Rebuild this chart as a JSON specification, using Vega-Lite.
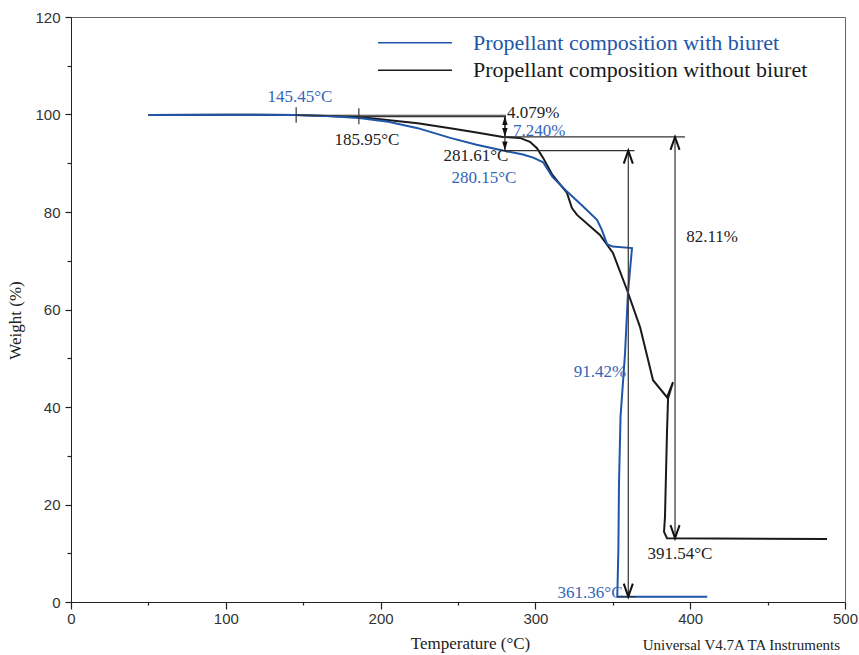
{
  "$schema": "https://vega.github.io/schema/vega-lite/v6.json",
  "autosize": "none",
  "padding": {"left": 71, "top": 17, "right": 14, "bottom": 53},
  "width": 774,
  "height": 585,
  "background": "white",
  "config": {
    "view": {"stroke": "#666", "strokeWidth": 1},
    "axis": {"grid": false, "labelFlush": false, "domainColor": "#222", "tickColor": "#222", "tickWidth": 1.2, "labelFont": "Liberation Sans", "labelFontSize": 15, "labelColor": "#333", "titleFont": "Liberation Serif", "titleFontWeight": "normal", "titleFontSize": 17, "titleColor": "#222"}
  },
  "datasets": {
    "withBiuret": [
      {"i": 1, "t": 50, "w": 99.9},
      {"i": 2, "t": 100, "w": 99.95},
      {"i": 3, "t": 145, "w": 99.9},
      {"i": 4, "t": 165, "w": 99.7},
      {"i": 5, "t": 186, "w": 99.3},
      {"i": 6, "t": 205, "w": 98.5},
      {"i": 7, "t": 224, "w": 97.2},
      {"i": 8, "t": 245, "w": 95.2},
      {"i": 9, "t": 262, "w": 93.8},
      {"i": 10, "t": 279, "w": 92.6},
      {"i": 11, "t": 292, "w": 91.8},
      {"i": 12, "t": 299, "w": 91.1},
      {"i": 13, "t": 305, "w": 90.2},
      {"i": 14, "t": 311, "w": 87.2},
      {"i": 15, "t": 320.4, "w": 84.2},
      {"i": 16, "t": 330, "w": 81.4},
      {"i": 17, "t": 339.8, "w": 78.4},
      {"i": 18, "t": 343, "w": 76.3},
      {"i": 19, "t": 346.3, "w": 73.4},
      {"i": 20, "t": 350, "w": 72.9},
      {"i": 21, "t": 362.4, "w": 72.6},
      {"i": 22, "t": 359.8, "w": 63.4},
      {"i": 23, "t": 357.9, "w": 51},
      {"i": 24, "t": 355, "w": 38},
      {"i": 25, "t": 354, "w": 24.4},
      {"i": 26, "t": 353.6, "w": 10.7},
      {"i": 27, "t": 352.9, "w": 1.1},
      {"i": 28, "t": 380, "w": 1.1},
      {"i": 29, "t": 411, "w": 1.1}
    ],
    "withoutBiuret": [
      {"i": 1, "t": 50, "w": 99.9},
      {"i": 2, "t": 100, "w": 99.95},
      {"i": 3, "t": 145, "w": 99.9},
      {"i": 4, "t": 186, "w": 99.5},
      {"i": 5, "t": 224, "w": 98.2},
      {"i": 6, "t": 245, "w": 97.2},
      {"i": 7, "t": 262, "w": 96.3},
      {"i": 8, "t": 279, "w": 95.4},
      {"i": 9, "t": 290, "w": 95.2},
      {"i": 10, "t": 296.5, "w": 94.4},
      {"i": 11, "t": 301, "w": 93.1},
      {"i": 12, "t": 305, "w": 91.1},
      {"i": 13, "t": 311, "w": 87.6},
      {"i": 14, "t": 320.4, "w": 83.9},
      {"i": 15, "t": 323.6, "w": 80.8},
      {"i": 16, "t": 326.9, "w": 79.4},
      {"i": 17, "t": 341.7, "w": 75.3},
      {"i": 18, "t": 350.1, "w": 71.6},
      {"i": 19, "t": 359.2, "w": 64},
      {"i": 20, "t": 367.6, "w": 56.4},
      {"i": 21, "t": 376, "w": 45.5},
      {"i": 22, "t": 385, "w": 42},
      {"i": 23, "t": 388.9, "w": 45.1},
      {"i": 24, "t": 385.7, "w": 41.8},
      {"i": 25, "t": 385, "w": 34.7},
      {"i": 26, "t": 383.7, "w": 17.4},
      {"i": 27, "t": 383.1, "w": 14.4},
      {"i": 28, "t": 385, "w": 13.1},
      {"i": 29, "t": 488.4, "w": 12.9}
    ],
    "rules": [
      {"t": 145.45, "t2": 281, "w": 99.85, "w2": 99.85},
      {"t": 185.95, "t2": 281, "w": 99.55, "w2": 99.55},
      {"t": 279.5, "t2": 396.6, "w": 95.4, "w2": 95.4},
      {"t": 279.5, "t2": 364, "w": 92.6, "w2": 92.6},
      {"t": 280.3, "t2": 280.3, "w": 99.7, "w2": 95.4},
      {"t": 280.3, "t2": 280.3, "w": 99.7, "w2": 92.6},
      {"t": 360, "t2": 360, "w": 92.6, "w2": 1.1},
      {"t": 390.2, "t2": 390.2, "w": 95.4, "w2": 13.1},
      {"t": 353, "t2": 365, "w": 1.1, "w2": 1.1},
      {"t": 145.45, "t2": 145.45, "w": 101.5, "w2": 98.3},
      {"t": 185.95, "t2": 185.95, "w": 101.3, "w2": 98.0}
    ],
    "legendLines": [
      {"series": "with", "t": 198.3, "t2": 246.1, "w": 114.7},
      {"series": "without", "t": 198.3, "t2": 246.1, "w": 109.1}
    ],
    "headsUp": [{"t": 360, "w": 92.6}, {"t": 390.2, "w": 95.4}],
    "headsDown": [{"t": 360, "w": 1.1}, {"t": 390.2, "w": 13.1}],
    "smallUp": [{"t": 280.3, "w": 99.7}],
    "smallDown": [{"t": 280.3, "w": 95.4}, {"t": 280.3, "w": 92.6}],
    "blueCenter": [
      {"t": 147.9, "w": 103.6, "label": "145.45°C"},
      {"t": 266.8, "w": 87.0, "label": "280.15°C"},
      {"t": 335.3, "w": 1.85, "label": "361.36°C"},
      {"t": 341.7, "w": 47.2, "label": "91.42%"}
    ],
    "blackCenter": [
      {"t": 191.2, "w": 94.8, "label": "185.95°C"},
      {"t": 261.6, "w": 91.5, "label": "281.61°C"},
      {"t": 414.1, "w": 74.9, "label": "82.11%"},
      {"t": 393.4, "w": 9.9, "label": "391.54°C"}
    ],
    "blueLeft": [{"t": 285.5, "w": 96.6, "label": "7.240%"}],
    "blackLeft": [{"t": 281.7, "w": 100.3, "label": "4.079%"}],
    "legendText": [
      {"series": "with", "t": 259.7, "w": 114.7, "label": "Propellant composition with biuret"},
      {"series": "without", "t": 259.7, "w": 109.1, "label": "Propellant composition without biuret"}
    ],
    "footer": [{"t": 496.8, "w": -8.8, "label": "Universal V4.7A TA Instruments"}]
  },
  "layer": [
    {
      "data": {"name": "withoutBiuret"},
      "mark": {"type": "line", "strokeWidth": 2, "color": "#1a1a1a"},
      "encoding": {
        "x": {"field": "t", "type": "quantitative", "scale": {"domain": [0, 500], "nice": false, "zero": false},
          "axis": {"title": "Temperature (°C)", "values": [0,25,50,75,100,125,150,175,200,225,250,275,300,325,350,375,400,425,450,475,500],
            "labelExpr": "datum.value % 100 === 0 ? datum.label : ''",
            "tickSize": {"condition": {"test": "datum.value % 100 === 0", "value": 7}, "value": 3},
            "labelPadding": 2, "titleX": 399, "titleY": 41, "titleBaseline": "middle", "titleAlign": "center"}},
        "y": {"field": "w", "type": "quantitative", "scale": {"domain": [0, 120], "nice": false, "zero": false},
          "axis": {"title": "Weight (%)", "values": [0,5,10,15,20,25,30,35,40,45,50,55,60,65,70,75,80,85,90,95,100,105,110,115,120],
            "labelExpr": "datum.value % 20 === 0 ? datum.label : ''",
            "tickSize": {"condition": {"test": "datum.value % 20 === 0", "value": 6}, "value": 4},
            "labelPadding": 5, "titleX": -56, "titleY": 303, "titleAngle": 270, "titleBaseline": "middle", "titleAlign": "center"}},
        "order": {"field": "i", "type": "quantitative"}
      }
    },
    {
      "data": {"name": "withBiuret"},
      "mark": {"type": "line", "strokeWidth": 2, "color": "#1f56a8"},
      "encoding": {
        "x": {"field": "t", "type": "quantitative"},
        "y": {"field": "w", "type": "quantitative"},
        "order": {"field": "i", "type": "quantitative"}
      }
    },
    {
      "data": {"name": "rules"},
      "mark": {"type": "rule", "color": "#333", "strokeWidth": 1.2},
      "encoding": {
        "x": {"field": "t", "type": "quantitative"},
        "x2": {"field": "t2"},
        "y": {"field": "w", "type": "quantitative"},
        "y2": {"field": "w2"}
      }
    },
    {
      "data": {"name": "legendLines"},
      "mark": {"type": "rule", "strokeWidth": 1.5},
      "encoding": {
        "x": {"field": "t", "type": "quantitative"},
        "x2": {"field": "t2"},
        "y": {"field": "w", "type": "quantitative"},
        "color": {"field": "series", "type": "nominal", "scale": {"domain": ["with", "without"], "range": ["#1f56a8", "#1a1a1a"]}, "legend": null}
      }
    },
    {
      "data": {"name": "headsUp"},
      "mark": {"type": "point", "shape": "M -0.7 2 L 0 0 L 0.7 2", "size": 169, "filled": false, "stroke": "#111", "strokeWidth": 2, "opacity": 1},
      "encoding": {"x": {"field": "t", "type": "quantitative"}, "y": {"field": "w", "type": "quantitative"}}
    },
    {
      "data": {"name": "headsDown"},
      "mark": {"type": "point", "shape": "M -0.7 -2 L 0 0 L 0.7 -2", "size": 169, "filled": false, "stroke": "#111", "strokeWidth": 2, "opacity": 1},
      "encoding": {"x": {"field": "t", "type": "quantitative"}, "y": {"field": "w", "type": "quantitative"}}
    },
    {
      "data": {"name": "smallUp"},
      "mark": {"type": "point", "shape": "M -0.6 2 L 0 0 L 0.6 2 Z", "size": 81, "filled": true, "color": "#111", "opacity": 1},
      "encoding": {"x": {"field": "t", "type": "quantitative"}, "y": {"field": "w", "type": "quantitative"}}
    },
    {
      "data": {"name": "smallDown"},
      "mark": {"type": "point", "shape": "M -0.6 -2 L 0 0 L 0.6 -2 Z", "size": 81, "filled": true, "color": "#111", "opacity": 1},
      "encoding": {"x": {"field": "t", "type": "quantitative"}, "y": {"field": "w", "type": "quantitative"}}
    },
    {
      "data": {"name": "blueCenter"},
      "mark": {"type": "text", "font": "Liberation Serif", "fontSize": 17, "color": "#3366b8", "align": "center", "baseline": "middle"},
      "encoding": {"x": {"field": "t", "type": "quantitative"}, "y": {"field": "w", "type": "quantitative"}, "text": {"field": "label"}}
    },
    {
      "data": {"name": "blackCenter"},
      "mark": {"type": "text", "font": "Liberation Serif", "fontSize": 17, "color": "#222", "align": "center", "baseline": "middle"},
      "encoding": {"x": {"field": "t", "type": "quantitative"}, "y": {"field": "w", "type": "quantitative"}, "text": {"field": "label"}}
    },
    {
      "data": {"name": "blueLeft"},
      "mark": {"type": "text", "font": "Liberation Serif", "fontSize": 17, "color": "#3366b8", "align": "left", "baseline": "middle"},
      "encoding": {"x": {"field": "t", "type": "quantitative"}, "y": {"field": "w", "type": "quantitative"}, "text": {"field": "label"}}
    },
    {
      "data": {"name": "blackLeft"},
      "mark": {"type": "text", "font": "Liberation Serif", "fontSize": 17, "color": "#222", "align": "left", "baseline": "middle"},
      "encoding": {"x": {"field": "t", "type": "quantitative"}, "y": {"field": "w", "type": "quantitative"}, "text": {"field": "label"}}
    },
    {
      "data": {"name": "legendText"},
      "mark": {"type": "text", "font": "Liberation Serif", "fontSize": 22, "align": "left", "baseline": "middle"},
      "encoding": {"x": {"field": "t", "type": "quantitative"}, "y": {"field": "w", "type": "quantitative"}, "text": {"field": "label"},
        "color": {"field": "series", "type": "nominal", "scale": {"domain": ["with", "without"], "range": ["#1f56a8", "#1a1a1a"]}, "legend": null}}
    },
    {
      "data": {"name": "footer"},
      "mark": {"type": "text", "font": "Liberation Serif", "fontSize": 15, "color": "#222", "align": "right", "baseline": "middle"},
      "encoding": {"x": {"field": "t", "type": "quantitative"}, "y": {"field": "w", "type": "quantitative"}, "text": {"field": "label"}}
    }
  ]
}
